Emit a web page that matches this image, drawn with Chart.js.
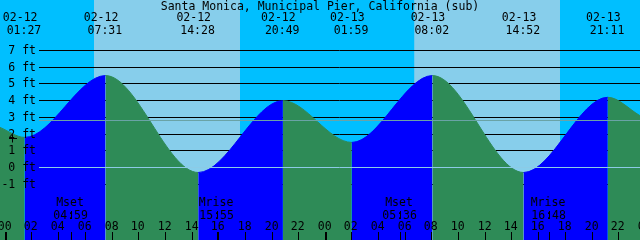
<!DOCTYPE html>
<html>
<head>
<meta charset="utf-8">
<script src="https://cdn.jsdelivr.net/npm/chart.js@4.4.0/dist/chart.umd.min.js"></script>
<style>
  html, body { margin: 0; padding: 0; background: #00bfff; }
  #wrap { width: 640px; height: 240px; }
</style>
</head>
<body>
<div id="wrap"><canvas id="tide" width="640" height="240"></canvas></div>
<script>
const stationName = "Santa Monica, Municipal Pier, California (sub)";

// high and low water: date, time, height (ft)
const tideDates = ["02-12", "02-12", "02-12", "02-12", "02-13", "02-13", "02-13", "02-13"];
const tideClock = ["01:27", "07:31", "14:28", "20:49", "01:59", "08:02", "14:52", "21:11"];
const tideFeet  = [1.8, 5.5, -0.3, 4.0, 1.5, 5.5, -0.3, 4.2];

// water level where the curve meets the left / right edge
const edgeHours = [-0.4, 47.6];
const edgeFeet  = [2.4, 3.1];

// sunrise, sunset, sunrise, sunset
const sunDates = ["02-12", "02-12", "02-13", "02-13"];
const sunClock = ["06:39", "17:36", "06:40", "17:36"];

const moonNames = ["Mset", "Mrise", "Mset", "Mrise"];
const moonDates = ["02-12", "02-12", "02-13", "02-13"];
const moonClock = ["04:59", "15:55", "05:36", "16:48"];

const feetTicks = [-1, 0, 1, 2, 3, 4, 5, 6, 7];
const hourTicks = [0, 2, 4, 6, 8, 10, 12, 14, 16, 18, 20, 22, 24, 26, 28, 30, 32, 34, 36, 38, 40, 42, 44, 46, 48];
const meanFeet = 2.8;

const DAY = "#87ceeb", NIGHT = "#00bfff", RISE = "#0000ff", FALL = "#2e8b57";
const FONT = '11.5px "DejaVu Sans Mono"';

function toHours(date, clock) {
  const day = parseInt(date.slice(3)) - 12;
  const [h, m] = clock.split(":").map(Number);
  return day * 24 + h + m / 60;
}

const points = [{x: edgeHours[0], y: edgeFeet[0]}];
for (let i = 0; i < tideFeet.length; i++) {
  points.push({x: toHours(tideDates[i], tideClock[i]), y: tideFeet[i]});
}
points.push({x: edgeHours[1], y: edgeFeet[1]});

const backdrop = {
  id: "backdrop",
  beforeDatasetsDraw(chart) {
    const {ctx, scales: {x, y}, width, height} = chart;
    ctx.save();
    ctx.fillStyle = NIGHT;
    ctx.fillRect(0, 0, width, height);
    ctx.fillStyle = DAY;
    for (let i = 0; i < sunClock.length; i += 2) {
      const a = x.getPixelForValue(toHours(sunDates[i], sunClock[i]));
      const b = x.getPixelForValue(toHours(sunDates[i + 1], sunClock[i + 1]));
      ctx.fillRect(a, 0, b - a, height);
    }
    ctx.strokeStyle = "#000";
    ctx.lineWidth = 1;
    for (const f of feetTicks) {
      const py = Math.floor(y.getPixelForValue(f)) + 0.5;
      ctx.beginPath();
      ctx.moveTo(39, py);
      ctx.lineTo(width, py);
      ctx.stroke();
    }
    ctx.restore();
  }
};

const overlay = {
  id: "overlay",
  afterDatasetsDraw(chart) {
    const {ctx, scales: {x, y}, width} = chart;
    ctx.save();
    // datum and mean water lines
    ctx.lineWidth = 1;
    ctx.strokeStyle = "#8ccbe6";
    let py = Math.floor(y.getPixelForValue(0)) + 0.5;
    ctx.beginPath(); ctx.moveTo(39, py); ctx.lineTo(width, py); ctx.stroke();
    ctx.strokeStyle = "#6aa3a6";
    py = Math.floor(y.getPixelForValue(meanFeet)) + 0.5;
    ctx.beginPath(); ctx.moveTo(39, py); ctx.lineTo(width, py); ctx.stroke();

    ctx.fillStyle = "#000";
    ctx.strokeStyle = "#000";
    ctx.font = FONT;
    ctx.textBaseline = "alphabetic";

    ctx.textAlign = "center";
    ctx.fillText(stationName, 320, 10);

    for (let i = 0; i < tideClock.length; i++) {
      const px = x.getPixelForValue(toHours(tideDates[i], tideClock[i]));
      ctx.fillText(tideDates[i], px - 4.5, 21);
      ctx.fillText(tideClock[i], px - 0.7, 34);
    }

    ctx.textAlign = "right";
    for (const f of feetTicks) {
      const ly = Math.floor(y.getPixelForValue(f));
      ctx.fillText(f + " ft", 36, ly + 4);
    }
    // small cross mark over the 2 ft label
    py = Math.floor(y.getPixelForValue(2)) + 4.5;
    ctx.beginPath(); ctx.moveTo(9, py); ctx.lineTo(17, py); ctx.stroke();
    ctx.beginPath(); ctx.moveTo(12.5, py - 4); ctx.lineTo(12.5, py + 4); ctx.stroke();

    ctx.textAlign = "center";
    for (const h of hourTicks) {
      const px = Math.floor(x.getPixelForValue(h)) + 0.5;
      ctx.fillText(String(h % 24).padStart(2, "0"), px - 0.8, 230);
      ctx.lineWidth = h % 24 === 0 ? 2 : 1;
      const tx = h % 24 === 0 ? px + 0.5 : px;
      ctx.beginPath(); ctx.moveTo(tx, 232); ctx.lineTo(tx, 240); ctx.stroke();
    }

    ctx.lineWidth = 1;
    for (let i = 0; i < moonNames.length; i++) {
      const px = Math.floor(x.getPixelForValue(toHours(moonDates[i], moonClock[i]))) + 0.5;
      ctx.fillText(moonNames[i], px - 1.5, 206);
      ctx.fillText(moonClock[i], px - 0.9, 219);
      ctx.beginPath(); ctx.moveTo(px, 211); ctx.lineTo(px, 219); ctx.stroke();
      ctx.beginPath(); ctx.moveTo(px, 232); ctx.lineTo(px, 240); ctx.stroke();
    }
    ctx.restore();
  }
};

new Chart(document.getElementById("tide"), {
  type: "line",
  data: {
    datasets: [{
      data: points,
      fill: "start",
      cubicInterpolationMode: "monotone",
      pointRadius: 0,
      borderWidth: 1,
      borderColor: FALL,
      backgroundColor: FALL,
      segment: {
        backgroundColor: c => c.p1.parsed.y > c.p0.parsed.y ? RISE : FALL,
        borderColor: c => c.p1.parsed.y > c.p0.parsed.y ? RISE : FALL
      }
    }]
  },
  options: {
    responsive: false,
    animation: false,
    devicePixelRatio: 1,
    layout: { padding: 0 },
    plugins: { legend: { display: false }, tooltip: { enabled: false } },
    scales: {
      x: { type: "linear", min: -0.4, max: 47.6, display: false },
      y: { min: -4.338, max: 10.021, display: false }
    }
  },
  plugins: [backdrop, overlay]
});
</script>
</body>
</html>
